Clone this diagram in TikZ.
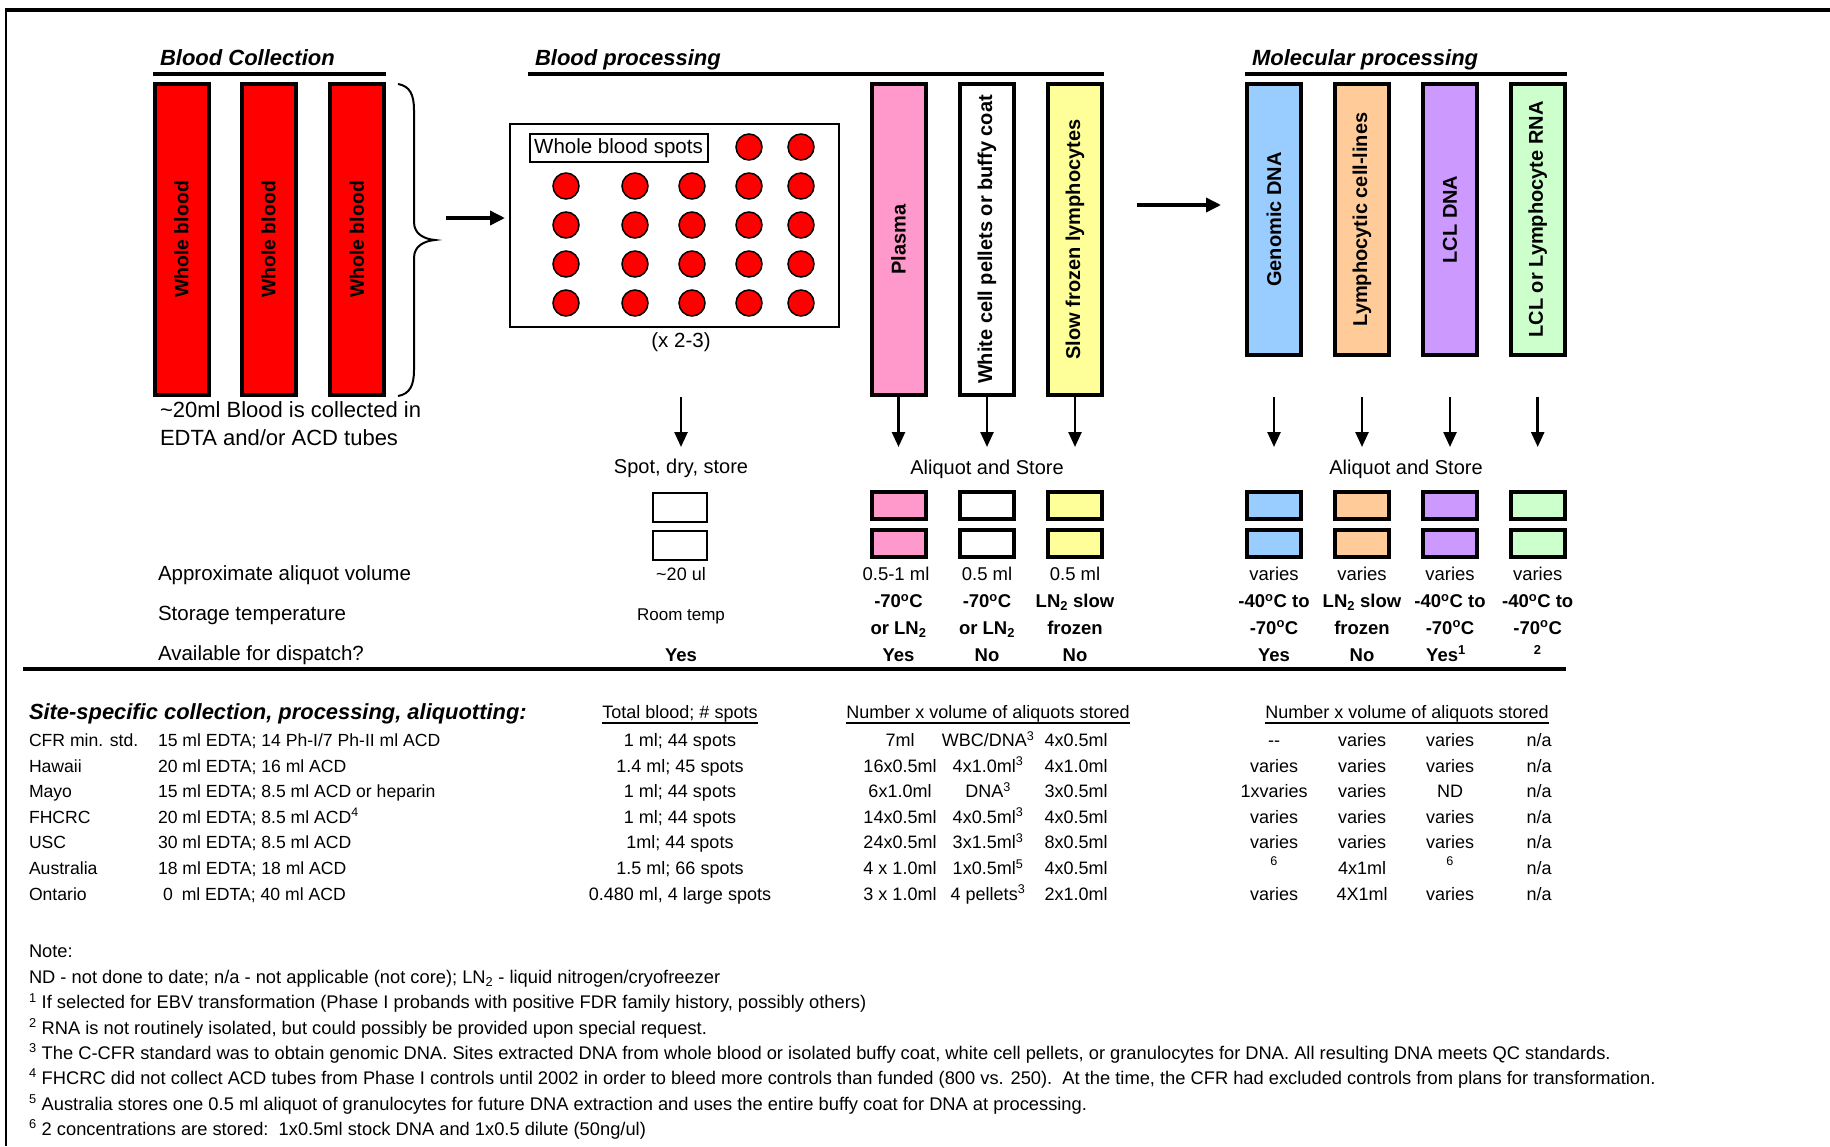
\documentclass[tikz,border=0pt]{standalone}
\usepackage{fontspec}
\setmainfont{Liberation Sans}
\usetikzlibrary{arrows.meta}
\definecolor{plasmac}{HTML}{FF99CC}
\definecolor{yellowc}{HTML}{FFFF99}
\definecolor{bluec}{HTML}{99CCFF}
\definecolor{orangec}{HTML}{FFCC99}
\definecolor{purplec}{HTML}{CC99FF}
\definecolor{greenc}{HTML}{CCFFCC}
\newcommand\myfs[1]{\fontsize{#1}{#1}\selectfont}
\newcommand\dg{\textsuperscript{o}}
\begin{document}
\begin{tikzpicture}[x=1pt,y=-1pt,
  every node/.style={inner sep=0pt, outer sep=0pt},
  lbl/.style={font=\myfs{20.5}, anchor=base west},
  ctr/.style={font=\myfs{20}, anchor=base},
  val/.style={font=\myfs{18.5}, anchor=base},
  bval/.style={font=\bfseries\myfs{18.5}, anchor=base},
  tab/.style={font=\myfs{18}, anchor=base},
  tabl/.style={font=\myfs{17.6}, anchor=base west},
  notetxt/.style={font=\myfs{18.3}, anchor=base west},
  ttl/.style={font=\bfseries\itshape\myfs{22}, anchor=base west},
  tubebox/.style={draw, line width=4pt, rotate=90, minimum height=54pt, font=\bfseries\myfs{20}},
  tubetall/.style={tubebox, minimum width=311pt},
  tubeshort/.style={tubebox, minimum width=271pt},
  cupbox/.style={draw, line width=4pt, minimum width=54pt, minimum height=27pt},
  thincup/.style={draw, line width=2pt, minimum width=54pt, minimum height=29pt},
  spotdot/.style={circle, draw, fill=red, line width=1.5pt, minimum size=26pt},
  bigarr/.style={line width=3.5pt, -{Triangle[length=15pt,width=14pt]}},
  downarr/.style={line width=2.5pt, -{Triangle[length=15pt,width=13pt]}},
  hrule/.style={line width=3.5pt},
  uline/.style={line width=2pt}
]
\useasboundingbox (0,0) rectangle (1830,1146);
% frame
\draw[hrule] (5,10) -- (1830,10);
\draw[line width=2pt] (6,8) -- (6,1146);

% section titles
\node[ttl] (t1) at (160,65) {Blood Collection};
\node[ttl] (t2) at (535,65) {Blood processing};
\node[ttl] (t3) at (1252,65) {Molecular processing};
\draw[hrule] (153,74) -- (386,74);
\draw[hrule] (528,74) -- (1104,74);
\draw[hrule] (1245,74) -- (1567,74);

% blood tubes
\node[tubetall, fill=red, font=\bfseries\myfs{19.5}] (wb1) at (181.5,239.5) {Whole blood};
\node[tubetall, fill=red, font=\bfseries\myfs{19.5}] (wb2) at (268.5,239.5) {Whole blood};
\node[tubetall, fill=red, font=\bfseries\myfs{19.5}] (wb3) at (357,239.5) {Whole blood};
\draw[line width=2pt] (398,84) .. controls (410,86) and (414,95) .. (414,110) -- (414,222)
  .. controls (414,234) and (424,239) .. (435,240) .. controls (424,241) and (414,246) .. (414,258)
  -- (414,370) .. controls (414,385) and (410,394) .. (398,396);
\node[lbl, font=\myfs{22}] (coll1) at (160,417) {\textasciitilde 20ml Blood is collected in};
\node[lbl, font=\myfs{22}] (coll2) at (160,445) {EDTA and/or ACD tubes};

% spots card
\node[draw, line width=2.5pt, minimum width=329pt, minimum height=203pt] (spotbox) at (674.5,225.5) {};
\node[draw, line width=2pt, minimum width=178pt, minimum height=28pt, font=\myfs{20.5}] (wbs) at (618.5,148.3) {Whole blood spots};
\node[spotdot] (d-0-4) at (749,147) {};
\node[spotdot] (d-0-5) at (801,147) {};
\foreach \r/\yy in {1/186,2/225,3/264,4/303}{
  \foreach \c/\xx in {1/566,2/635,3/692,4/749,5/801}{
    \node[spotdot] (d-\r-\c) at (\xx,\yy) {};
  }
}
\node[ctr, font=\myfs{20.5}] (x23) at (681,347) {(x 2-3)};
\coordinate (bracetip) at (446,218);
\draw[bigarr, shorten >=5pt] (bracetip) -- (bracetip -| spotbox.west);

% processing tubes
\node[tubetall, fill=plasmac] (plasma) at (898.5,239.5) {Plasma};
\node[tubetall, fill=white] (wcp) at (987,239.5) {White cell pellets or buffy coat};
\node[tubetall, fill=yellowc] (sfl) at (1075,239.5) {Slow frozen lymphocytes};
\coordinate (m1) at (1137,205);
\coordinate (m2) at (1221,205);
\draw[bigarr] (m1) -- (m2);

% molecular tubes
\node[tubeshort, fill=bluec] (gdna) at (1274,219.5) {Genomic DNA};
\node[tubeshort, fill=orangec] (lcl) at (1362,219.5) {Lymphocytic cell-lines};
\node[tubeshort, fill=purplec] (lcldna) at (1450,219.5) {LCL DNA};
\node[tubeshort, fill=greenc] (lclrna) at (1537.7,219.5) {LCL or Lymphocyte RNA};

% down arrows
\foreach \n/\xx in {sp/681,pl/898.5,wc/987,sf/1075,gd/1274,ly/1362,ld/1450,lr/1537.7}{
  \coordinate (\n-top) at (\xx,397);
  \coordinate (\n-bot) at (\xx,447);
  \draw[downarr] (\n-top) -- (\n-bot);
}
\node[ctr] (sds) at (681,473) {Spot, dry, store};
\node[ctr] (as1) at (987,474) {Aliquot and Store};
\node[ctr] (as2) at (1406,474) {Aliquot and Store};

% aliquot cups
\node[thincup] (sc1) at (680,507) {};
\node[thincup] (sc2) at (680,545) {};
\foreach \n/\xx/\cc in {pl/898.5/plasmac,wc/987/white,sf/1075/yellowc,gd/1274/bluec,ly/1362/orangec,ld/1450/purplec,lr/1537.7/greenc}{
  \node[cupbox, fill=\cc] (\n-c1) at (\xx,505.5) {};
  \node[cupbox, fill=\cc] (\n-c2) at (\xx,543.5) {};
}

% row labels
\node[lbl] (rl1) at (158,580) {Approximate aliquot volume};
\node[lbl] (rl2) at (158,620) {Storage temperature};
\node[lbl] (rl3) at (158,660) {Available for dispatch?};

% volumes
\node[val, font=\myfs{18}] (v-sp) at (681,580) {\textasciitilde 20 ul};
\node[val] (v-pl) at (896,580) {0.5-1 ml};
\node[val] (v-wc) at (987,580) {0.5 ml};
\node[val] (v-sf) at (1075,580) {0.5 ml};
\node[val] (v-gd) at (1274,580) {varies};
\node[val] (v-ly) at (1362,580) {varies};
\node[val] (v-ld) at (1450,580) {varies};
\node[val] (v-lr) at (1537.7,580) {varies};

% temperatures
\node[val, font=\myfs{17}] (s-sp) at (681,620) {Room temp};
\node[bval] (s-pl1) at (898.5,607.5) {-70\dg C};
\node[bval] (s-pl2) at (898.5,634) {or LN\textsubscript{2}};
\node[bval] (s-wc1) at (987,607.5) {-70\dg C};
\node[bval] (s-wc2) at (987,634) {or LN\textsubscript{2}};
\node[bval] (s-sf1) at (1075,607.5) {LN\textsubscript{2} slow};
\node[bval] (s-sf2) at (1075,634) {frozen};
\node[bval] (s-gd1) at (1274,607.5) {-40\dg C to};
\node[bval] (s-gd2) at (1274,634) {-70\dg C};
\node[bval] (s-ly1) at (1362,607.5) {LN\textsubscript{2} slow};
\node[bval] (s-ly2) at (1362,634) {frozen};
\node[bval] (s-ld1) at (1450,607.5) {-40\dg C to};
\node[bval] (s-ld2) at (1450,634) {-70\dg C};
\node[bval] (s-lr1) at (1537.7,607.5) {-40\dg C to};
\node[bval] (s-lr2) at (1537.7,634) {-70\dg C};

% dispatch
\node[bval] (a-sp) at (681,661) {Yes};
\node[bval] (a-pl) at (898.5,661) {Yes};
\node[bval] (a-wc) at (987,661) {No};
\node[bval] (a-sf) at (1075,661) {No};
\node[bval] (a-gd) at (1274,661) {Yes};
\node[bval] (a-ly) at (1362,661) {No};
\node[bval] (a-ld) at (1446,661) {Yes\textsuperscript{1}};
\node[bval] (a-lr) at (1537.7,661) {\textsuperscript{2}};

\draw[hrule] (23,669) -- (1566,669);

% table
\node[ttl, font=\bfseries\itshape\myfs{21.9}] (sitehdr) at (29,719) {Site-specific collection, processing, aliquotting:};
\node[tab] (h1) at (680,718) {Total blood; \# spots};
\node[tab] (h2) at (988,718) {Number x volume of aliquots stored};
\node[tab] (h3) at (1407,718) {Number x volume of aliquots stored};
\foreach \h in {h1,h2,h3}{
  \draw[uline] ([yshift=-4.5pt]\h.base west) -- ([yshift=-4.5pt]\h.base east);
}

% row 1
\node[tabl] (r1a) at (29,746.5) {CFR min. std.};
\node[tabl] (r1b) at (158,746.5) {15 ml EDTA; 14 Ph-I/7 Ph-II ml ACD};
\node[tab] (r1c) at (680,746.5) {1 ml; 44 spots};
\node[tab] (r1d) at (900,746.5) {7ml};
\node[tab] (r1e) at (988,746.5) {WBC/DNA\textsuperscript{3}};
\node[tab] (r1f) at (1076,746.5) {4x0.5ml};
\node[tab] (r1g) at (1274,746.5) {-{}-};
\node[tab] (r1h) at (1362,746.5) {varies};
\node[tab] (r1i) at (1450,746.5) {varies};
\node[tab] (r1j) at (1539,746.5) {n/a};
% row 2
\node[tabl] (r2a) at (29,772) {Hawaii};
\node[tabl] (r2b) at (158,772) {20 ml EDTA; 16 ml ACD};
\node[tab] (r2c) at (680,772) {1.4 ml; 45 spots};
\node[tab] (r2d) at (900,772) {16x0.5ml};
\node[tab] (r2e) at (988,772) {4x1.0ml\textsuperscript{3}};
\node[tab] (r2f) at (1076,772) {4x1.0ml};
\node[tab] (r2g) at (1274,772) {varies};
\node[tab] (r2h) at (1362,772) {varies};
\node[tab] (r2i) at (1450,772) {varies};
\node[tab] (r2j) at (1539,772) {n/a};
% row 3
\node[tabl] (r3a) at (29,797.5) {Mayo};
\node[tabl] (r3b) at (158,797.5) {15 ml EDTA; 8.5 ml ACD or heparin};
\node[tab] (r3c) at (680,797.5) {1 ml; 44 spots};
\node[tab] (r3d) at (900,797.5) {6x1.0ml};
\node[tab] (r3e) at (988,797.5) {DNA\textsuperscript{3}};
\node[tab] (r3f) at (1076,797.5) {3x0.5ml};
\node[tab] (r3g) at (1274,797.5) {1xvaries};
\node[tab] (r3h) at (1362,797.5) {varies};
\node[tab] (r3i) at (1450,797.5) {ND};
\node[tab] (r3j) at (1539,797.5) {n/a};
% row 4
\node[tabl] (r4a) at (29,823) {FHCRC};
\node[tabl] (r4b) at (158,823) {20 ml EDTA; 8.5 ml ACD\textsuperscript{4}};
\node[tab] (r4c) at (680,823) {1 ml; 44 spots};
\node[tab] (r4d) at (900,823) {14x0.5ml};
\node[tab] (r4e) at (988,823) {4x0.5ml\textsuperscript{3}};
\node[tab] (r4f) at (1076,823) {4x0.5ml};
\node[tab] (r4g) at (1274,823) {varies};
\node[tab] (r4h) at (1362,823) {varies};
\node[tab] (r4i) at (1450,823) {varies};
\node[tab] (r4j) at (1539,823) {n/a};
% row 5
\node[tabl] (r5a) at (29,848.5) {USC};
\node[tabl] (r5b) at (158,848.5) {30 ml EDTA; 8.5 ml ACD};
\node[tab] (r5c) at (680,848.5) {1ml; 44 spots};
\node[tab] (r5d) at (900,848.5) {24x0.5ml};
\node[tab] (r5e) at (988,848.5) {3x1.5ml\textsuperscript{3}};
\node[tab] (r5f) at (1076,848.5) {8x0.5ml};
\node[tab] (r5g) at (1274,848.5) {varies};
\node[tab] (r5h) at (1362,848.5) {varies};
\node[tab] (r5i) at (1450,848.5) {varies};
\node[tab] (r5j) at (1539,848.5) {n/a};
% row 6
\node[tabl] (r6a) at (29,874.5) {Australia};
\node[tabl] (r6b) at (158,874.5) {18 ml EDTA; 18 ml ACD};
\node[tab] (r6c) at (680,874.5) {1.5 ml; 66 spots};
\node[tab] (r6d) at (900,874.5) {4 x 1.0ml};
\node[tab] (r6e) at (988,874.5) {1x0.5ml\textsuperscript{5}};
\node[tab] (r6f) at (1076,874.5) {4x0.5ml};
\node[tab] (r6g) at (1274,872) {\textsuperscript{6}};
\node[tab] (r6h) at (1362,874.5) {4x1ml};
\node[tab] (r6i) at (1450,872) {\textsuperscript{6}};
\node[tab] (r6j) at (1539,874.5) {n/a};
% row 7
\node[tabl] (r7a) at (29,900) {Ontario};
\node[tabl] (r7b) at (163,900) {0\hspace{9pt}ml EDTA; 40 ml ACD};
\node[tab] (r7c) at (680,900) {0.480 ml, 4 large spots};
\node[tab] (r7d) at (900,900) {3 x 1.0ml};
\node[tab] (r7e) at (988,900) {4 pellets\textsuperscript{3}};
\node[tab] (r7f) at (1076,900) {2x1.0ml};
\node[tab] (r7g) at (1274,900) {varies};
\node[tab] (r7h) at (1362,900) {4X1ml};
\node[tab] (r7i) at (1450,900) {varies};
\node[tab] (r7j) at (1539,900) {n/a};

% notes
\node[notetxt] (n0) at (29,957) {Note:};
\node[notetxt] (n1) at (29,983) {ND - not done to date; n/a - not applicable (not core); LN\textsubscript{2} - liquid nitrogen/cryofreezer};
\node[notetxt] (n2) at (29,1008.5) {\textsuperscript{1} If selected for EBV transformation (Phase I probands with positive FDR family history, possibly others)};
\node[notetxt] (n3) at (29,1034) {\textsuperscript{2} RNA is not routinely isolated, but could possibly be provided upon special request.};
\node[notetxt] (n4) at (29,1059) {\textsuperscript{3} The C-CFR standard was to obtain genomic DNA. Sites extracted DNA from whole blood or isolated buffy coat, white cell pellets, or granulocytes for DNA. All resulting DNA meets QC standards.};
\node[notetxt] (n5) at (29,1084) {\textsuperscript{4} FHCRC did not collect ACD tubes from Phase I controls until 2002 in order to bleed more controls than funded (800 vs. 250).\ \ At the time, the CFR had excluded controls from plans for transformation.};
\node[notetxt] (n6) at (29,1110) {\textsuperscript{5} Australia stores one 0.5 ml aliquot of granulocytes for future DNA extraction and uses the entire buffy coat for DNA at processing.};
\node[notetxt] (n7) at (29,1135) {\textsuperscript{6} 2 concentrations are stored:\ \ 1x0.5ml stock DNA and 1x0.5 dilute (50ng/ul)};
\end{tikzpicture}
\end{document}
